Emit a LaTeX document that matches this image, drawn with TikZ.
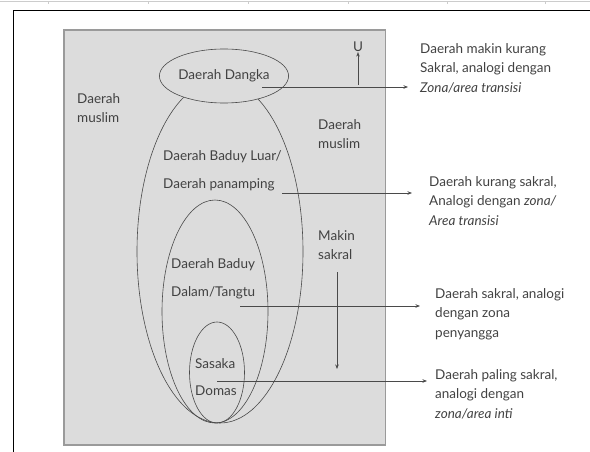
\documentclass[tikz,border=0pt]{standalone}
\usepackage{fontspec}
\setmainfont{Lato}
\usetikzlibrary{arrows.meta,shapes.geometric}

\definecolor{bgabu}{HTML}{DCDCDC}
\definecolor{tepi}{HTML}{9A9A9A}
\definecolor{garis}{HTML}{4A4A4A}
\definecolor{teks}{HTML}{424242}

\tikzset{
  tulisan/.style={text=teks,font=\fontsize{13.5}{19.5}\selectfont,inner sep=0pt,align=left},
  zona/.style={draw=garis,line width=0.6pt,ellipse,inner sep=0pt},
  panah/.style={draw=garis,line width=0.6pt,-{Stealth[length=4.5pt,width=3.5pt]}}
}

\begin{document}
\begin{tikzpicture}[x=1pt,y=-1pt]
      \useasboundingbox (0,0) rectangle (590,452);
      % bingkai halaman
      \draw[gray!40] (0,1.5) -- (590,1.5);
      \foreach \t in {48,148,248,348,447,545}
        \draw[gray!40] (\t,1.5) -- (\t,4);
      \draw[black,line width=1pt] (13,452) -- (13,10.5) -- (590,10.5);
      % kotak abu-abu
      \draw[tepi,fill=bgabu,line width=1.5pt] (64,30) rectangle (385.5,445);

      % zona-zona
      \node[zona,minimum width=166pt,minimum height=343pt] (luar) at (220,251.5) {};
      \node[zona,minimum width=106pt,minimum height=223pt] (dalam) at (215,311.5) {};
      \node[zona,minimum width=55pt,minimum height=101pt] (sasaka) at (217,372.5) {};
      \node[zona,fill=bgabu,minimum width=106pt,minimum height=54pt,tulisan] (dangka) at (224,76) {Daerah Dangka};

      % label di dalam
      \node[tulisan,anchor=west] (muslimkiri) at (77,108) {Daerah\\muslim};
      \node[tulisan,anchor=west] (muslimkanan) at (318,134) {Daerah\\muslim};
      \node[tulisan,anchor=west] (luarteks) at (163,171) {Daerah Baduy Luar/\\[8pt]Daerah panamping};
      \node[tulisan,anchor=west] (dalamteks) at (171,279) {Daerah Baduy\\[8pt]Dalam/Tangtu};
      \node[tulisan,anchor=west] (sasakateks) at (195,377) {Sasaka\\[8pt]Domas};
      \node[tulisan,anchor=west] (makin) at (318,245) {Makin\\sakral};

      % arah utara
      \node[tulisan] (utara) at (358,47) {U};
      \coordinate (utarabawah) at (358,85);
      \draw[panah] (utarabawah) -- (utara.south);

      % keterangan kanan
      \node[tulisan,anchor=west] (ket1) at (420,68) {Daerah makin kurang\\Sakral, analogi dengan\\\textit{Zona/area transisi}};
      \node[tulisan,anchor=west] (ket2) at (429,201) {Daerah kurang sakral,\\Analogi dengan \textit{zona/}\\\textit{Area transisi}};
      \node[tulisan,anchor=west] (ket3) at (435,314) {Daerah sakral, analogi\\dengan zona\\penyangga};
      \node[tulisan,anchor=west] (ket4) at (435,394) {Daerah paling sakral,\\analogi dengan\\\textit{zona/area inti}};

      % panah
      \coordinate (p1) at (262,87);
      \coordinate (q1) at (408,87);
      \coordinate (p2) at (282,193);
      \coordinate (q2) at (412,193);
      \coordinate (p3) at (240,306);
      \coordinate (q3) at (420,306);
      \coordinate (p4) at (217,381);
      \coordinate (q4) at (427,381);
      \draw[panah] (p1) -- (q1);
      \draw[panah] (p2) -- (q2);
      \draw[panah] (p3) -- (q3);
      \draw[panah] (p4) -- (q4);
      \coordinate (m1) at (337,272);
      \coordinate (m2) at (337,369);
      \draw[panah] (m1) -- (m2);
    \end{tikzpicture}
\end{document}
